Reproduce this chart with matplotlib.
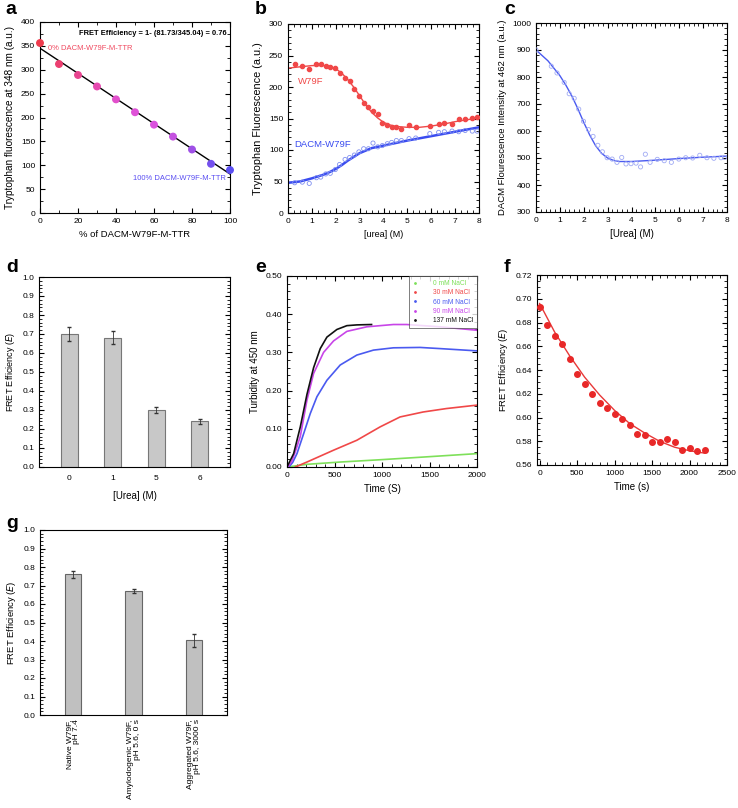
import numpy as np
import matplotlib
matplotlib.use('Agg')
import matplotlib.pyplot as plt
from matplotlib.ticker import MultipleLocator, FormatStrFormatter

plt.rcParams['font.family'] = ['Liberation Sans', 'DejaVu Sans']
plt.rcParams['font.size'] = 7

# ---- panel a data ----
a_pct = [0, 10, 20, 30, 40, 50, 60, 70, 80, 90, 100]
a_trp = [356, 312, 289, 265, 238, 211, 185, 160, 133, 103, 90]
a_colors = ['#ee3a4c', '#ec3f70', '#e84590', '#e64ab0', '#e250cc', '#df52d8',
            '#da52de', '#c452e0', '#9f50e6', '#7450ee', '#5a4ef2']
a_fit_x = [0, 100]
a_fit_y = [345.04, 81.73]

# ---- panel b data ----
b_urea = [0.28, 0.6, 0.89, 1.19, 1.37, 1.58, 1.77, 1.98, 2.16, 2.39, 2.58, 2.78,
          2.97, 3.17, 3.37, 3.56, 3.76, 3.95, 4.16, 4.34, 4.54, 4.75, 5.07, 5.35,
          5.94, 6.31, 6.55, 6.87, 7.15, 7.42, 7.72, 7.92]
b_w79f = [237, 233, 228, 236, 236, 233, 232, 230, 222, 215, 209, 197, 185, 175,
          168, 162, 157, 143, 140, 136, 136, 134, 139, 136, 138, 142, 143, 142,
          149, 149, 151, 152]
b_dacm = [48, 49, 47, 56, 57, 62, 63, 69, 77, 85, 88, 92, 97, 102, 102, 111, 105,
          107, 110, 112, 115, 115, 118, 119, 126, 128, 129, 130, 129, 131, 130, 130]
b_fit_x = [0, 0.5, 1, 1.5, 1.75, 2, 2.25, 2.5, 2.75, 3, 3.25, 3.5, 3.75, 4, 4.25,
           4.5, 5, 5.5, 6, 6.5, 7, 7.5, 8]
b_fit_w79f = [230, 232, 234, 234, 232, 229, 222, 212, 200, 186, 172, 160, 151, 144,
              140, 137.5, 136, 136, 138, 141, 145, 148, 151]
b_fit_dacm = [48, 50, 55, 61, 65, 70, 76, 83, 89, 95, 99, 103, 105, 107, 109,
              111, 115, 118.5, 122, 125.5, 129, 132.5, 136]

# ---- panel c data ----
c_urea = [0.0, 0.64, 0.88, 1.18, 1.39, 1.6, 1.79, 1.99, 2.2, 2.39, 2.59, 2.78, 2.98,
          3.19, 3.39, 3.59, 3.77, 3.98, 4.19, 4.38, 4.58, 4.78, 5.08, 5.37, 5.67,
          5.98, 6.27, 6.56, 6.86, 7.16, 7.45, 7.75, 7.9]
c_dacm = [900, 840, 815, 780, 738, 721, 681, 636, 605, 580, 547, 523, 501, 496, 484,
          502, 478, 479, 481, 467, 514, 484, 495, 490, 484, 496, 501, 500, 510, 501,
          499, 501, 502]
c_fit_x = [0, 0.5, 1, 1.25, 1.5, 1.75, 2, 2.25, 2.5, 2.75, 3, 3.25, 3.5, 4, 5, 6, 7, 8]
c_fit_y = [900, 860, 805, 770, 730, 683, 632, 585, 545, 517, 500, 491, 487, 487,
           492, 498, 503, 507]

# ---- panel d data ----
d_labels = ['0', '1', '5', '6']
d_fret = [0.70, 0.68, 0.30, 0.24]
d_err = [0.035, 0.035, 0.015, 0.013]

# ---- panel e data ----
e_labels = ['0 mM NaCl', '30 mM NaCl', '60 mM NaCl', '90 mM NaCl', '137 mM NaCl']
e_colors = ['#7ee05a', '#f04848', '#4a5af0', '#c845e8', '#111111']
e_t0 = [0, 210, 560, 980, 1433, 2000]
e_y0 = [0, 0.007, 0.013, 0.019, 0.026, 0.035]
e_t30 = [87, 210, 490, 735, 980, 1190, 1433, 1678, 2000]
e_y30 = [0, 0.013, 0.044, 0.07, 0.105, 0.131, 0.144, 0.153, 0.162]
e_t60 = [20, 60, 105, 175, 245, 315, 420, 560, 735, 910, 1120, 1400, 1608, 2000]
e_y60 = [0, 0.012, 0.035, 0.087, 0.14, 0.184, 0.227, 0.267, 0.293, 0.306, 0.312,
         0.313, 0.31, 0.304]
e_t90 = [10, 50, 87, 140, 210, 280, 385, 490, 630, 840, 1120, 1260, 1608, 2000]
e_y90 = [0, 0.015, 0.04, 0.08, 0.175, 0.245, 0.30, 0.33, 0.355, 0.367, 0.373,
         0.373, 0.367, 0.358]
e_t137 = [0, 70, 140, 210, 280, 350, 420, 525, 630, 735, 890]
e_y137 = [0, 0.035, 0.105, 0.19, 0.26, 0.31, 0.34, 0.36, 0.37, 0.372, 0.373]

# ---- panel f data ----
f_time = [0, 100, 200, 300, 400, 500, 600, 700, 800, 900, 1000, 1100, 1200, 1300,
          1400, 1500, 1600, 1700, 1800, 1900, 2000, 2100, 2200]
f_fret = [0.693, 0.678, 0.669, 0.662, 0.649, 0.637, 0.628, 0.620, 0.612, 0.608,
          0.603, 0.599, 0.594, 0.586, 0.585, 0.579, 0.579, 0.582, 0.579, 0.573,
          0.574, 0.572, 0.573]
f_fit_t = [0, 200, 400, 600, 800, 1000, 1200, 1400, 1600, 1800, 2000, 2200]
f_fit_y = [0.696, 0.672, 0.652, 0.634, 0.619, 0.606, 0.595, 0.587, 0.580, 0.575,
           0.572, 0.570]

# ---- panel g data ----
g_labels = ['Native W79F,\npH 7.4', 'Amylodogenic W79F,\npH 5.6, 0 s',
            'Aggregated W79F,\npH 5.6, 3000 s']
g_fret = [0.76, 0.67, 0.405]
g_err = [0.02, 0.01, 0.035]

W, H = 738, 808
fig = plt.figure(figsize=(W / 100, H / 100), dpi=100)


def box(x0, y0, x1, y1):
    return fig.add_axes([x0 / W, 1 - y1 / H, (x1 - x0) / W, (y1 - y0) / H])


def style(ax, top=True):
    ax.tick_params(which='both', direction='in', top=top, right=True, labelsize=6)
    ax.tick_params(which='major', length=3.5)
    ax.tick_params(which='minor', length=2)
    for s in ax.spines.values():
        s.set_linewidth(0.8)


def panel(x, y, letter):
    fig.text(x / W, 1 - y / H, letter, fontsize=14, fontweight='bold', ha='left', va='center')


# a
ax = box(40, 22, 230, 213)
ax.plot(a_fit_x, a_fit_y, color='black', lw=1)
ax.scatter(a_pct, a_trp, c=a_colors, s=22, zorder=3, clip_on=False)
ax.set_xlim(0, 100)
ax.set_ylim(0, 400)
ax.xaxis.set_major_locator(MultipleLocator(20))
ax.xaxis.set_minor_locator(MultipleLocator(10))
ax.yaxis.set_major_locator(MultipleLocator(50))
ax.yaxis.set_minor_locator(MultipleLocator(25))
style(ax)
ax.set_xlabel('% of DACM-W79F-M-TTR', fontsize=6.8)
ax.set_ylabel('Tryptophan fluorescence at 348 nm (a.u.)', fontsize=7.2)
ax.text(0.98, 0.94, 'FRET Efficiency = 1- (81.73/345.04) = 0.76', transform=ax.transAxes,
        ha='right', va='center', fontsize=5.4, fontweight='bold')
ax.text(4, 345, '0% DACM-W79F-M-TTR', color='#f04a60', fontsize=5.5, va='center')
ax.text(49, 73, '100% DACM-W79F-M-TTR', color='#5a4ef2', fontsize=5.5, va='center')
panel(5, 10, 'a')

# b
ax = box(288, 24, 479, 213)
ax.plot(b_fit_x, b_fit_w79f, color='#f04848', lw=1)
ax.plot(b_fit_x, b_fit_dacm, color='#3a4cf0', lw=1.8)
ax.scatter(b_urea, b_w79f, color='#f04848', s=9, zorder=3)
ax.scatter(b_urea, b_dacm, facecolors='none', edgecolors='#8090f0', s=9, lw=0.6, zorder=3)
ax.set_xlim(0, 8)
ax.set_ylim(0, 300)
ax.xaxis.set_major_locator(MultipleLocator(1))
ax.xaxis.set_minor_locator(MultipleLocator(0.25))
ax.yaxis.set_major_locator(MultipleLocator(50))
ax.yaxis.set_minor_locator(MultipleLocator(10))
style(ax)
ax.set_xlabel('[urea] (M)', fontsize=6.5)
ax.set_ylabel('Tryptophan Fluorescence (a.u.)', fontsize=7.8)
ax.text(0.42, 208, 'W79F', color='#f04848', fontsize=6.8, va='center')
ax.text(0.28, 108, 'DACM-W79F', color='#3a4cf0', fontsize=6.8, va='center')
panel(255, 10, 'b')

# c
ax = box(536, 23, 727, 212)
ax.plot(c_fit_x, c_fit_y, color='#4a5af0', lw=1)
ax.scatter(c_urea, c_dacm, facecolors='none', edgecolors='#a0aaf4', s=9, lw=0.6, zorder=3)
ax.set_xlim(0, 8)
ax.set_ylim(300, 1000)
ax.xaxis.set_major_locator(MultipleLocator(1))
ax.xaxis.set_minor_locator(MultipleLocator(0.2))
ax.yaxis.set_major_locator(MultipleLocator(100))
ax.yaxis.set_minor_locator(MultipleLocator(20))
style(ax)
ax.set_xlabel('[Urea] (M)', fontsize=7)
ax.set_ylabel('DACM Flourescence Intensity at 462 nm (a.u.)', fontsize=6.8)
panel(504, 10, 'c')

# d
ax = box(39, 277, 230, 467)
xd = np.arange(len(d_labels))
ax.bar(xd, d_fret, width=0.4, color='#c8c8c8', edgecolor='#777777', lw=0.8)
ax.errorbar(xd, d_fret, yerr=d_err, fmt='none', ecolor='#333333', elinewidth=0.6, capsize=1.5)
ax.set_xlim(-0.7, 3.7)
ax.set_ylim(0, 1.0)
ax.set_xticks(xd)
ax.set_xticklabels(d_labels)
ax.yaxis.set_major_locator(MultipleLocator(0.1))
ax.yaxis.set_minor_locator(MultipleLocator(0.02))
ax.yaxis.set_major_formatter(FormatStrFormatter('%.1f'))
style(ax, top=False)
ax.tick_params(axis='x', which='both', length=0, pad=6)
ax.set_xlabel('[Urea] (M)', fontsize=7, labelpad=6)
ax.set_ylabel('FRET Efficiency ($\\it{E}$)', fontsize=6.5)
panel(6, 267, 'd')

# e
ax = box(287, 276, 477, 467)
e_series = [(e_t0, e_y0), (e_t30, e_y30), (e_t60, e_y60), (e_t90, e_y90), (e_t137, e_y137)]
for (t, y), c, lab in zip(e_series, e_colors, e_labels):
    ax.plot(t, y, color=c, lw=1.2, label=lab)
ax.set_xlim(0, 2000)
ax.set_ylim(0, 0.5)
ax.xaxis.set_major_locator(MultipleLocator(500))
ax.xaxis.set_minor_locator(MultipleLocator(100))
ax.yaxis.set_major_locator(MultipleLocator(0.1))
ax.yaxis.set_minor_locator(MultipleLocator(0.02))
ax.yaxis.set_major_formatter(FormatStrFormatter('%.2f'))
style(ax)
ax.set_xlabel('Time (S)', fontsize=7)
ax.set_ylabel('Turbidity at 450 nm', fontsize=7)
leg = ax.legend(loc='upper right', fontsize=4.8, frameon=True, fancybox=False, handlelength=0.8,
                borderpad=0.6, labelspacing=0.35, handletextpad=2.2, borderaxespad=0.0)
leg.get_frame().set_edgecolor('#444444')
leg.get_frame().set_linewidth(0.6)
for txt, h, c in zip(leg.get_texts(), leg.legend_handles, e_colors):
    txt.set_color(c)
    h.set_linestyle('none')
    h.set_marker('.')
    h.set_markersize(2)
panel(255, 267, 'e')

# f
ax = box(537, 275, 727, 465)
ax.plot(f_fit_t, f_fit_y, color='#e83838', lw=1)
ax.scatter(f_time, f_fret, color='#e82828', s=16, zorder=3)
ax.set_xlim(-35, 2500)
ax.set_ylim(0.56, 0.72)
ax.xaxis.set_major_locator(MultipleLocator(500))
ax.xaxis.set_minor_locator(MultipleLocator(100))
ax.yaxis.set_major_locator(MultipleLocator(0.02))
ax.yaxis.set_minor_locator(MultipleLocator(0.005))
ax.yaxis.set_major_formatter(FormatStrFormatter('%.2f'))
style(ax)
ax.set_xlabel('Time (s)', fontsize=7)
ax.set_ylabel('FRET Efficiency ($\\it{E}$)', fontsize=6.8)
panel(504, 267, 'f')

# g
ax = box(40, 530, 227, 715)
xg = np.arange(len(g_labels))
ax.bar(xg, g_fret, width=0.27, color='#c0c0c0', edgecolor='#666666', lw=0.8)
ax.errorbar(xg, g_fret, yerr=g_err, fmt='none', ecolor='#333333', elinewidth=0.6, capsize=1.5)
ax.set_xlim(-0.55, 2.55)
ax.set_ylim(0, 1.0)
ax.set_xticks(xg)
ax.set_xticklabels(g_labels, rotation=90, fontsize=7.3, va='top', ha='center',
                   multialignment='right', linespacing=1.0)
ax.yaxis.set_major_locator(MultipleLocator(0.1))
ax.yaxis.set_minor_locator(MultipleLocator(0.02))
ax.yaxis.set_major_formatter(FormatStrFormatter('%.1f'))
style(ax, top=False)
ax.tick_params(axis='x', which='both', length=0, pad=3)
ax.set_ylabel('FRET Efficiency ($\\it{E}$)', fontsize=6.8)
panel(6, 524, 'g')

fig.savefig('out.png', dpi=100)
